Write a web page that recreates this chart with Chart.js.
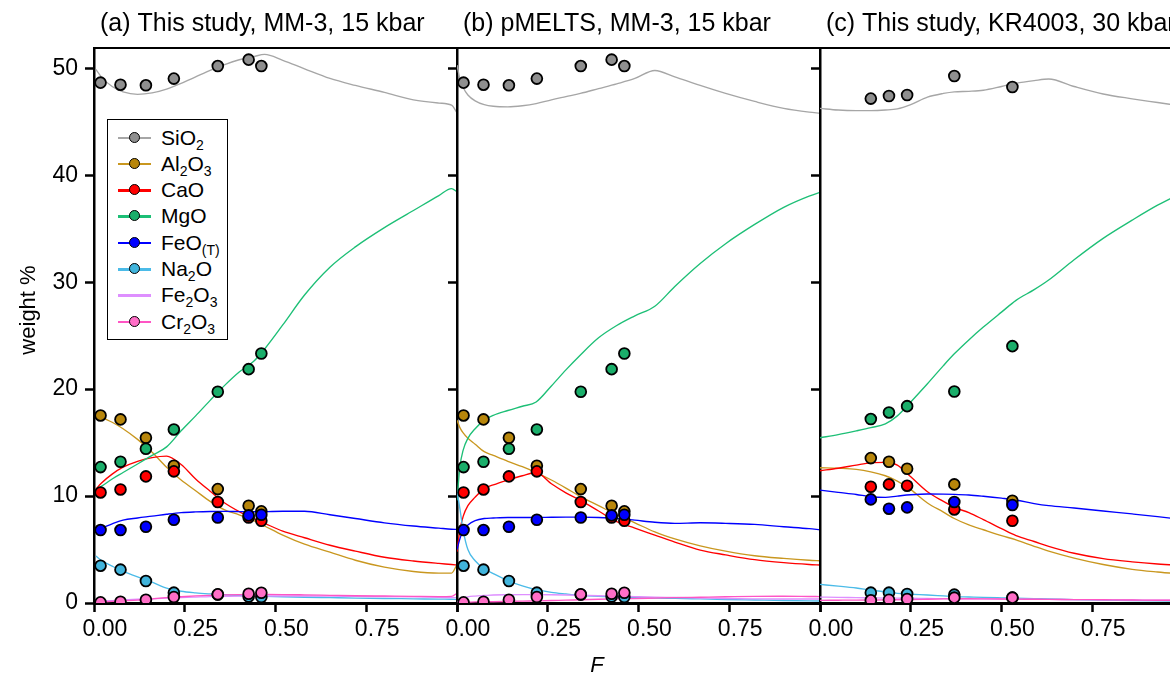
<!DOCTYPE html>
<html>
<head>
<meta charset="utf-8">
<script src="https://cdn.jsdelivr.net/npm/chart.js@4.4.1/dist/chart.umd.min.js"></script>
<style>
  html, body { margin: 0; padding: 0; background: #fff; }
  #fig { position: relative; width: 1170px; height: 675px; overflow: hidden;
         font-family: "Liberation Sans", Arial, sans-serif; }
  #fig canvas { position: absolute; top: 0; }
  #legend { position: absolute; left: 107px; top: 119px; width: 119px; height: 219px;
            border: 1.5px solid #000; background: #fff; }
  .row { position: absolute; left: 0; height: 26px; width: 119px; }
  .row .ln { position: absolute; left: 10px; top: 12px; width: 33px; height: 2.5px; }
  .row .mk { position: absolute; left: 20.5px; top: 7px; width: 9px; height: 9px;
             border: 1.8px solid #000; border-radius: 50%; }
  .row .tx { position: absolute; left: 53px; top: 0; font-size: 21px; line-height: 26px;
             color: #000; white-space: nowrap; }
  .row .tx sub { font-size: 14px; vertical-align: -5px; line-height: 0; }
</style>
</head>
<body>
<div id="fig">
  <canvas id="pa" width="470" height="675"></canvas>
  <canvas id="pb" width="470" height="675"></canvas>
  <canvas id="pc" width="470" height="675"></canvas>
  <div id="legend"></div>
</div>
<script>
// ---- oxide names and styles ----
const oxideNames = ['SiO2', 'Al2O3', 'CaO', 'MgO', 'FeO(T)', 'Na2O', 'Fe2O3', 'Cr2O3'];
const oxideMarkup = ['SiO<sub>2</sub>', 'Al<sub>2</sub>O<sub>3</sub>', 'CaO', 'MgO',
                     'FeO<sub>(T)</sub>', 'Na<sub>2</sub>O', 'Fe<sub>2</sub>O<sub>3</sub>', 'Cr<sub>2</sub>O<sub>3</sub>'];
const markerColors = ['#8f8f8f', '#b8860b', '#ff0000', '#1aae6a', '#0000ff', '#41b4dc', null, '#ff6ec7'];
const lineColors   = ['#a6a6a6', '#c9971f', '#ff0000', '#1dbf76', '#0000ff', '#4bbbe8', '#de8fff', '#ff55c4'];

// ---- axis ticks ----
const xTicks = [0, 0.25, 0.5, 0.75, 1];
const xTickLabels = ['0.00', '0.25', '0.50', '0.75', ''];
const yTicks = [0, 10, 20, 30, 40, 50];
const yTickLabels = ['0', '10', '20', '30', '40', '50'];

// ---- experiments, MM-3 at 15 kbar (melt fraction F, wt%) ----
const F_MM3      = [0.018, 0.073, 0.143, 0.220, 0.341, 0.426, 0.461];
const SiO2_MM3   = [48.66, 48.47, 48.41, 49.04, 50.21, 50.81, 50.21];
const Al2O3_MM3  = [17.54, 17.17, 15.45, 12.83, 10.65, 9.09, 8.57];
const CaO_MM3    = [10.34, 10.62, 11.84, 12.31, 9.44, 8.00, 7.69];
const MgO_MM3    = [12.71, 13.21, 14.42, 16.23, 19.75, 21.87, 23.33];
const FeO_MM3    = [6.82, 6.82, 7.13, 7.79, 8.00, 8.19, 8.25];
const Na2O_MM3   = [3.49, 3.12, 2.06, 0.97, 0.80, 0.60, 0.55];
const Cr2O3_MM3  = [0.06, 0.12, 0.31, 0.56, 0.81, 0.87, 0.96];

// ---- experiments, KR4003 at 30 kbar ----
const F_KR4003     = [0.140, 0.190, 0.240, 0.370, 0.530];
const SiO2_KR4003  = [47.17, 47.41, 47.50, 49.28, 48.25];
const Al2O3_KR4003 = [13.55, 13.21, 12.55, 11.09, 9.56];
const CaO_KR4003   = [10.87, 11.09, 10.97, 8.75, 7.69];
const MgO_KR4003   = [17.20, 17.82, 18.41, 19.78, 24.02];
const FeO_KR4003   = [9.69, 8.82, 8.94, 9.44, 9.16];
const Na2O_KR4003  = [0.97, 0.97, 0.84, 0.78, 0.50];
const Cr2O3_KR4003 = [0.25, 0.31, 0.37, 0.50, 0.50];

// ---- model curves, panel (a) ----
const modF_a   = [0.005, 0.02, 0.05, 0.08, 0.12, 0.16, 0.20, 0.24, 0.28, 0.32, 0.36, 0.40, 0.44, 0.47, 0.52, 0.58, 0.65, 0.72, 0.80, 0.88, 0.95, 0.985, 1.0];
const SiO2_a   = [49.9, 49.2, 48.3, 47.8, 47.57, 47.7, 48.05, 48.6, 49.2, 49.8, 50.35, 50.8, 51.1, 51.3, 50.75, 49.95, 49.05, 48.4, 47.75, 47.05, 46.75, 46.55, 45.85];
const Al2O3_a  = [17.73, 17.4, 16.9, 16.3, 15.3, 14.1, 12.7, 11.5, 10.5, 9.5, 8.7, 8.25, 7.7, 7.2, 6.35, 5.5, 4.75, 4.0, 3.35, 2.95, 2.8, 2.8, 3.6];
const CaO_a    = [10.65, 11.2, 12.05, 12.7, 13.25, 13.6, 13.74, 12.95, 11.6, 10.45, 9.35, 8.55, 7.9, 7.45, 6.72, 6.1, 5.4, 4.85, 4.28, 3.93, 3.7, 3.6, 3.55];
const MgO_a    = [10.6, 10.9, 11.6, 12.2, 13.0, 13.8, 14.6, 16.1, 17.5, 18.95, 20.35, 21.6, 22.6, 23.75, 26.0, 28.8, 31.4, 33.3, 35.1, 36.7, 38.1, 38.75, 38.45];
const FeO_a    = [6.82, 7.0, 7.4, 7.75, 7.95, 8.12, 8.3, 8.45, 8.52, 8.56, 8.57, 8.55, 8.53, 8.54, 8.58, 8.58, 8.25, 7.9, 7.5, 7.2, 7.0, 6.9, 6.88];
const Na2O_a   = [4.39, 4.0, 3.45, 2.95, 2.45, 1.95, 1.4, 1.1, 0.95, 0.85, 0.77, 0.7, 0.65, 0.62, 0.58, 0.54, 0.5, 0.46, 0.42, 0.39, 0.36, 0.35, 0.34];
const Fe2O3_a  = [0.1, 0.15, 0.22, 0.28, 0.35, 0.4, 0.45, 0.5, 0.55, 0.6, 0.62, 0.64, 0.65, 0.65, 0.65, 0.65, 0.64, 0.62, 0.6, 0.57, 0.53, 0.5, 0.5];
const Cr2O3_a  = [0.05, 0.1, 0.15, 0.2, 0.27, 0.38, 0.5, 0.58, 0.66, 0.72, 0.76, 0.79, 0.8, 0.8, 0.79, 0.76, 0.72, 0.68, 0.65, 0.62, 0.6, 0.62, 0.9];

// ---- model curves, panel (b) pMELTS ----
const modF_b   = [0, 0.008, 0.017, 0.03, 0.05, 0.075, 0.1, 0.14, 0.18, 0.218, 0.26, 0.3, 0.34, 0.39, 0.44, 0.49, 0.545, 0.6, 0.67, 0.74, 0.82, 0.9, 0.97, 1.0];
const SiO2_b   = [50.3, 49.0, 48.2, 47.5, 46.95, 46.6, 46.45, 46.4, 46.5, 46.7, 47.05, 47.35, 47.65, 48.1, 48.55, 49.05, 49.8, 49.2, 48.4, 47.65, 46.9, 46.25, 45.9, 45.8];
const Al2O3_b  = [17.1, 16.4, 15.9, 15.4, 14.85, 14.15, 13.8, 13.25, 12.75, 12.2, 11.5, 10.75, 9.95, 9.1, 8.25, 7.5, 6.65, 6.0, 5.35, 4.85, 4.42, 4.17, 4.0, 3.95];
const CaO_b    = [4.8, 6.8, 8.1, 9.1, 9.9, 10.7, 11.05, 11.5, 11.9, 12.2, 11.15, 10.3, 9.6, 8.6, 7.6, 7.0, 6.35, 5.7, 4.95, 4.5, 4.05, 3.77, 3.6, 3.55];
const MgO_b    = [9.6, 12.74, 14.3, 15.4, 16.3, 17.1, 17.55, 18.0, 18.4, 18.8, 20.3, 21.8, 23.2, 24.8, 25.95, 26.85, 27.75, 29.6, 31.75, 33.6, 35.4, 37.0, 38.05, 38.4];
const FeO_b    = [5.0, 6.0, 6.8, 7.3, 7.7, 7.9, 7.95, 8.0, 8.0, 8.0, 8.02, 8.03, 8.03, 8.0, 7.92, 7.75, 7.55, 7.45, 7.5, 7.45, 7.35, 7.13, 6.95, 6.85];
const Na2O_b   = [10.5, 8.8, 6.8, 5.0, 3.95, 3.2, 2.75, 2.1, 1.6, 1.25, 1.0, 0.85, 0.72, 0.62, 0.55, 0.5, 0.47, 0.43, 0.38, 0.33, 0.28, 0.23, 0.2, 0.19];
const Fe2O3_b  = [0.1, 0.3, 0.45, 0.58, 0.65, 0.7, 0.75, 0.77, 0.78, 0.78, 0.77, 0.75, 0.72, 0.68, 0.65, 0.6, 0.55, 0.52, 0.47, 0.42, 0.39, 0.37, 0.37, 0.37];
const Cr2O3_b  = [0.05, 0.06, 0.07, 0.08, 0.1, 0.11, 0.12, 0.15, 0.18, 0.2, 0.23, 0.27, 0.3, 0.35, 0.39, 0.42, 0.46, 0.5, 0.54, 0.58, 0.62, 0.63, 0.61, 0.6];

// ---- model curves, panel (c) KR4003 30 kbar ----
const modF_c   = [0, 0.05, 0.1, 0.14, 0.18, 0.213, 0.25, 0.296, 0.34, 0.37, 0.41, 0.45, 0.5, 0.54, 0.59, 0.63, 0.7, 0.78, 0.86, 0.93, 1.0];
const SiO2_c   = [46.25, 46.1, 46.05, 46.05, 46.1, 46.2, 46.6, 47.3, 47.65, 47.8, 47.85, 47.95, 48.3, 48.6, 48.85, 49.0, 48.3, 47.6, 47.15, 46.8, 46.45];
const Al2O3_c  = [12.65, 12.6, 12.5, 12.27, 11.9, 11.4, 10.6, 9.35, 8.5, 7.9, 7.3, 6.85, 6.3, 5.9, 5.3, 4.85, 4.2, 3.6, 3.15, 2.9, 2.7];
const CaO_c    = [12.37, 12.6, 12.9, 13.11, 13.15, 12.9, 11.8, 10.4, 9.5, 8.94, 8.45, 7.8, 6.95, 6.3, 5.75, 5.3, 4.65, 4.15, 3.85, 3.65, 3.5];
const MgO_c    = [15.45, 15.75, 16.1, 16.4, 16.75, 17.5, 18.8, 20.5, 22.2, 23.3, 24.6, 25.8, 27.2, 28.3, 29.3, 30.2, 32.1, 34.1, 35.8, 37.2, 38.4];
const FeO_c    = [10.56, 10.35, 10.15, 9.94, 9.88, 10.0, 10.12, 10.19, 10.18, 10.16, 10.1, 9.98, 9.8, 9.63, 9.3, 9.1, 8.88, 8.6, 8.33, 8.08, 7.8];
const Na2O_c   = [1.74, 1.58, 1.4, 1.21, 1.05, 0.9, 0.82, 0.75, 0.66, 0.6, 0.56, 0.52, 0.48, 0.45, 0.41, 0.38, 0.32, 0.27, 0.23, 0.2, 0.18];
const Fe2O3_c  = [0.55, 0.53, 0.5, 0.48, 0.46, 0.45, 0.44, 0.42, 0.41, 0.4, 0.39, 0.38, 0.37, 0.36, 0.35, 0.34, 0.32, 0.3, 0.28, 0.26, 0.25];
const Cr2O3_c  = [0.25, 0.26, 0.27, 0.28, 0.29, 0.3, 0.32, 0.35, 0.38, 0.4, 0.4, 0.39, 0.37, 0.36, 0.35, 0.34, 0.32, 0.3, 0.28, 0.26, 0.25];

// ---- panel definitions ----
const FONT = '"Liberation Sans", Arial, sans-serif';
const AXIS_W = 94;      // room left of each plot area for the y axis
const PLOT_W = 363;     // width of one plot area
const panels = [
  { id: 'pa', left: 94,  title: '(a) This study, MM-3, 15 kbar', yLabels: true,
    modF: modF_a, model: [SiO2_a, Al2O3_a, CaO_a, MgO_a, FeO_a, Na2O_a, Fe2O3_a, Cr2O3_a],
    expF: F_MM3, exp: [SiO2_MM3, Al2O3_MM3, CaO_MM3, MgO_MM3, FeO_MM3, Na2O_MM3, null, Cr2O3_MM3] },
  { id: 'pb', left: 457, title: '(b) pMELTS, MM-3, 15 kbar', yLabels: false, xTitle: true,
    modF: modF_b, model: [SiO2_b, Al2O3_b, CaO_b, MgO_b, FeO_b, Na2O_b, Fe2O3_b, Cr2O3_b],
    expF: F_MM3, exp: [SiO2_MM3, Al2O3_MM3, CaO_MM3, MgO_MM3, FeO_MM3, Na2O_MM3, null, Cr2O3_MM3] },
  { id: 'pc', left: 820, title: '(c) This study, KR4003, 30 kbar', yLabels: false,
    modF: modF_c, model: [SiO2_c, Al2O3_c, CaO_c, MgO_c, FeO_c, Na2O_c, Fe2O3_c, Cr2O3_c],
    expF: F_KR4003, exp: [SiO2_KR4003, Al2O3_KR4003, CaO_KR4003, MgO_KR4003, FeO_KR4003, Na2O_KR4003, null, Cr2O3_KR4003] }
];

function buildDatasets(p) {
  const ds = [];
  p.model.forEach((vals, k) => {
    if (!vals) return;
    ds.push({
      label: oxideNames[k] + ' model',
      data: p.modF.map((f, i) => ({ x: f, y: vals[i] })),
      showLine: true, borderColor: lineColors[k], borderWidth: 1.35,
      pointRadius: 0, pointHoverRadius: 0, cubicInterpolationMode: 'monotone',
      order: 30 - k
    });
  });
  p.exp.forEach((vals, k) => {
    if (!vals) return;
    ds.push({
      label: oxideNames[k],
      data: p.expF.map((f, i) => ({ x: f, y: vals[i] })),
      showLine: false, pointRadius: 5.4, pointHoverRadius: 5.4, pointBorderWidth: 1.8,
      pointBackgroundColor: markerColors[k], pointBorderColor: '#000',
      backgroundColor: markerColors[k], borderColor: '#000',
      order: 10 - k
    });
  });
  return ds;
}

// frame top line, panel title and free axis titles
const panelDecor = {
  id: 'panelDecor',
  afterDraw(chart, args, opts) {
    const ctx = chart.ctx, ca = chart.chartArea;
    ctx.save();
    ctx.strokeStyle = '#000';
    ctx.lineWidth = 2;
    ctx.beginPath();
    ctx.moveTo(ca.left - 1, ca.top);
    ctx.lineTo(ca.right, ca.top);
    ctx.stroke();
    ctx.fillStyle = '#000';
    ctx.textAlign = 'left';
    ctx.textBaseline = 'middle';
    ctx.font = '25px ' + FONT;
    ctx.fillText(opts.title, ca.left + 6, 24);
    if (opts.yTitle) {
      ctx.save();
      ctx.translate(29, 310);
      ctx.rotate(-Math.PI / 2);
      ctx.textAlign = 'center';
      ctx.font = '22px ' + FONT;
      ctx.fillText('weight %', 0, 0);
      ctx.restore();
    }
    if (opts.xTitle) {
      ctx.textAlign = 'center';
      ctx.font = 'italic 22px ' + FONT;
      ctx.fillText('F', ca.left + 140, 666);
    }
    ctx.restore();
  }
};

panels.forEach(p => {
  const cv = document.getElementById(p.id);
  cv.style.left = (p.left - AXIS_W) + 'px';
  new Chart(cv, {
    type: 'scatter',
    data: { datasets: buildDatasets(p) },
    options: {
      responsive: false,
      animation: false,
      devicePixelRatio: 1,
      layout: { padding: { left: 0, right: cv.width - AXIS_W - PLOT_W, top: 48, bottom: 0 } },
      plugins: {
        legend: { display: false },
        tooltip: { enabled: false },
        panelDecor: { title: p.title, yTitle: p.yLabels, xTitle: !!p.xTitle }
      },
      scales: {
        x: {
          type: 'linear', min: 0, max: 1,
          afterBuildTicks: s => { s.ticks = xTicks.map(v => ({ value: v })); },
          afterFit: s => { s.height = 72; },
          ticks: {
            callback: v => { const i = xTicks.indexOf(v); return i >= 0 ? xTickLabels[i] : ''; },
            font: { family: FONT, size: 23 }, color: '#000',
            padding: 4, labelOffset: 11, maxRotation: 0, autoSkip: false
          },
          grid: { drawOnChartArea: false, drawTicks: true, tickLength: 9, tickWidth: 2.5, tickColor: '#000' },
          border: { display: true, color: '#000', width: 3 }
        },
        y: {
          type: 'linear', min: 0, max: 51.9,
          afterBuildTicks: s => { s.ticks = yTicks.map(v => ({ value: v })); },
          afterFit: s => { s.width = AXIS_W; },
          ticks: {
            display: p.yLabels,
            callback: v => { const i = yTicks.indexOf(v); return i >= 0 ? yTickLabels[i] : ''; },
            font: { family: FONT, size: 23 }, color: '#000', padding: 7
          },
          grid: { drawOnChartArea: false, drawTicks: true, tickLength: 9, tickWidth: 2.5, tickColor: '#000' },
          border: { display: true, color: '#000', width: 2.5 }
        }
      }
    },
    plugins: [panelDecor]
  });
});

// legend box with chemical subscripts
const legend = document.getElementById('legend');
oxideNames.forEach((name, k) => {
  const row = document.createElement('div');
  row.className = 'row';
  row.style.top = (4.5 + k * 26.3) + 'px';
  let html = '<div class="ln" style="background:' + lineColors[k] + '"></div>';
  if (markerColors[k]) html += '<div class="mk" style="background:' + markerColors[k] + '"></div>';
  html += '<div class="tx">' + oxideMarkup[k] + '</div>';
  row.innerHTML = html;
  legend.appendChild(row);
});
</script>
</body>
</html>
